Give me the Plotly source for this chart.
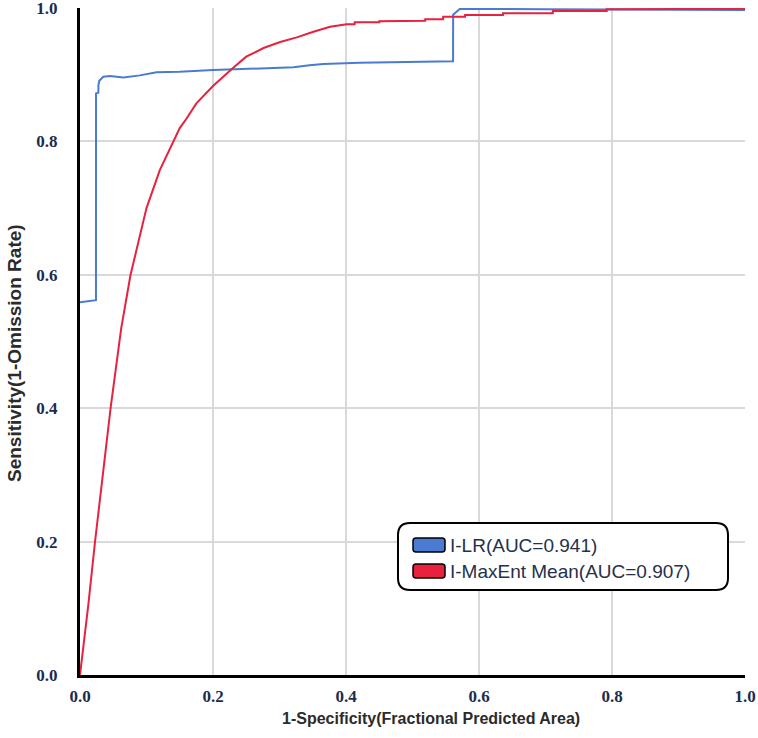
import plotly.graph_objects as go

# ---- data ----
tick_vals = [0.0, 0.2, 0.4, 0.6, 0.8, 1.0]
tick_text = ["0.0", "0.2", "0.4", "0.6", "0.8", "1.0"]

x_title = "1-Specificity(Fractional Predicted Area)"
y_title = "Sensitivity(1-Omission Rate)"

lr_name = "I-LR(AUC=0.941)"
lr_fpr = [0.0, 0.024, 0.0241, 0.0276, 0.0277, 0.029, 0.035, 0.045, 0.065, 0.09, 0.115,
          0.15, 0.2, 0.26, 0.321, 0.345, 0.366, 0.42, 0.496, 0.561, 0.5611, 0.571,
          0.7, 0.85, 1.0]
lr_tpr = [0.559, 0.562, 0.872, 0.873, 0.8845, 0.891, 0.897, 0.898, 0.896, 0.899, 0.9036,
          0.9045, 0.907, 0.909, 0.911, 0.914, 0.916, 0.918, 0.9195, 0.920, 0.99, 0.9985,
          0.9983, 0.998, 0.997]

me_name = "I-MaxEnt Mean(AUC=0.907)"
me_fpr = [0.0, 0.0125, 0.0226, 0.034, 0.046, 0.052, 0.062, 0.076, 0.088, 0.1, 0.12,
          0.14, 0.15, 0.16, 0.175, 0.2, 0.215, 0.23, 0.25, 0.276, 0.301, 0.326, 0.351,
          0.376, 0.401, 0.413, 0.4131, 0.45, 0.4501, 0.496, 0.519, 0.5191, 0.546, 0.5461,
          0.579, 0.5791, 0.636, 0.6361, 0.711, 0.7111, 0.792, 0.7921, 1.0]
me_tpr = [0.0, 0.105, 0.2, 0.3, 0.4, 0.445, 0.52, 0.6, 0.65, 0.70, 0.757,
          0.80, 0.82, 0.834, 0.857, 0.883, 0.897, 0.910, 0.927, 0.940, 0.949, 0.956, 0.9645,
          0.972, 0.9755, 0.9755, 0.9785, 0.9785, 0.980, 0.981, 0.981, 0.983, 0.983, 0.987,
          0.987, 0.9895, 0.9895, 0.992, 0.992, 0.9955, 0.9955, 0.998, 0.999]

blue = "#4a7bd0"
red = "#e8213f"

fig = go.Figure()
fig.add_trace(go.Scatter(x=lr_fpr, y=lr_tpr, mode="lines", name=lr_name,
                         line=dict(color=blue, width=2)))
fig.add_trace(go.Scatter(x=me_fpr, y=me_tpr, mode="lines", name=me_name,
                         line=dict(color=red, width=2)))

tickfont = dict(family="Liberation Serif", size=17, color="#1c2b4f", weight="bold")

fig.update_xaxes(range=[0, 1], tickvals=tick_vals, ticktext=tick_text, tickfont=tickfont,
                 showgrid=True, gridcolor="#d9d9d9", gridwidth=2, zeroline=False,
                 showline=True, linecolor="black", linewidth=3, ticks="",
                 automargin=False, ticklabelstandoff=4, ticklabeloverflow="allow")
fig.update_yaxes(range=[0, 1], tickvals=tick_vals, ticktext=tick_text, tickfont=tickfont,
                 showgrid=True, gridcolor="#d9d9d9", gridwidth=2, zeroline=False,
                 showline=True, linecolor="black", linewidth=3, ticks="",
                 automargin=False, ticklabelstandoff=16, ticklabeloverflow="allow")

# ---- axis titles (placed as in the reference) ----
W, H = 665.0, 667.0
def px(xp):
    return (xp - 80) / W
def py(yp):
    return (675 - yp) / H

fig.add_annotation(text=x_title, xref="paper", yref="paper", x=px(431), y=py(718),
                   showarrow=False, xanchor="center", yanchor="middle",
                   font=dict(family="Liberation Sans", size=16, color="#2b2b2b", weight="bold"))
fig.add_annotation(text=y_title, xref="paper", yref="paper", x=px(15), y=py(353),
                   showarrow=False, xanchor="center", yanchor="middle", textangle=-90,
                   font=dict(family="Liberation Sans", size=19, color="#2b2b2b", weight="bold"))

# ---- custom legend (rounded box) ----
def rounded_rect(x0, y0, x1, y1, rx, ry):
    return (f"M{x0+rx},{y0} L{x1-rx},{y0} Q{x1},{y0} {x1},{y0+ry} "
            f"L{x1},{y1-ry} Q{x1},{y1} {x1-rx},{y1} L{x0+rx},{y1} "
            f"Q{x0},{y1} {x0},{y1-ry} L{x0},{y0+ry} Q{x0},{y0} {x0+rx},{y0} Z")

shapes = []
shapes.append(dict(type="path", xref="x", yref="y",
                   path=rounded_rect(px(398), py(590), px(728), py(523), 12 / W, 12 / H),
                   line=dict(color="black", width=2), fillcolor="white", layer="above"))
for (ytop, ybot, col) in [(538, 552, blue), (564, 578, red)]:
    shapes.append(dict(type="path", xref="x", yref="y",
                       path=rounded_rect(px(413), py(ybot), px(445), py(ytop), 3 / W, 3 / H),
                       line=dict(color="black", width=1.5), fillcolor=col, layer="above"))
fig.update_layout(shapes=shapes)

legfont = dict(family="Liberation Sans", size=19, color="#26304a")
for name, yc in [(lr_name, 545.5), (me_name, 571)]:
    fig.add_annotation(x=px(448), y=py(yc), xref="x", yref="y", text=name,
                       showarrow=False, xanchor="left", yanchor="middle", font=legfont)

fig.update_layout(width=758, height=738, margin=dict(l=80, r=13, t=8, b=63),
                  plot_bgcolor="white", paper_bgcolor="white", showlegend=False)

fig.write_html("out.html")
